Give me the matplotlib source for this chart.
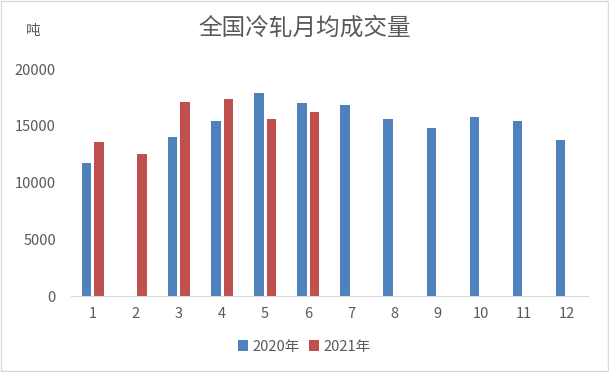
import numpy as np
import matplotlib.pyplot as plt

plt.rcParams['font.family'] = ['Noto Sans CJK SC', 'DejaVu Sans']

months = ['1', '2', '3', '4', '5', '6', '7', '8', '9', '10', '11', '12']
vol_2020 = [11700, np.nan, 14000, 15400, 17900, 17000, 16800, 15600, 14800, 15800, 15400, 13800]
vol_2021 = [13600, 12500, 17100, 17350, 15600, 16200]

fig = plt.figure(figsize=(6.09, 3.72), dpi=100)
ax = fig.add_axes([0.117, 0.204, 0.849, 0.610])

x = np.arange(len(months))
w = 0.22
ax.bar(x - 0.145, vol_2020, width=w, color='#4F81BD', label='2020年')
ax.bar(x[:len(vol_2021)] + 0.145, vol_2021, width=w, color='#C0504D', label='2021年')

ax.set_xlim(-0.5, len(months) - 0.5)
ax.set_ylim(0, 20000)
ax.set_yticks([0, 5000, 10000, 15000, 20000])
ax.set_xticks(x)
ax.set_xticklabels(months)
ax.tick_params(length=0, labelsize=10.5, colors='#595959')
ax.tick_params(axis='y', pad=11)
ax.tick_params(axis='x', pad=8)
for s in ['top', 'right', 'left']:
    ax.spines[s].set_visible(False)
ax.spines['bottom'].set_color('#D9D9D9')

fig.text(0.5, 0.925, '全国冷轧月均成交量', ha='center', va='center', fontsize=17, color='#595959')
fig.text(0.054, 0.918, '吨', ha='center', va='center', fontsize=10.5, color='#595959')

fig.legend(loc='center', bbox_to_anchor=(0.5, 0.068), ncol=2, frameon=False,
           fontsize=10.5, handlelength=0.7, handleheight=0.7, handletextpad=0.3,
           columnspacing=0.6, labelcolor='#595959')

fig.patches.append(plt.Rectangle((0.001, 0.002), 0.997, 0.995, transform=fig.transFigure,
                                 fill=False, edgecolor='#D9D9D9', linewidth=1))

fig.savefig('out.png', dpi=100)
